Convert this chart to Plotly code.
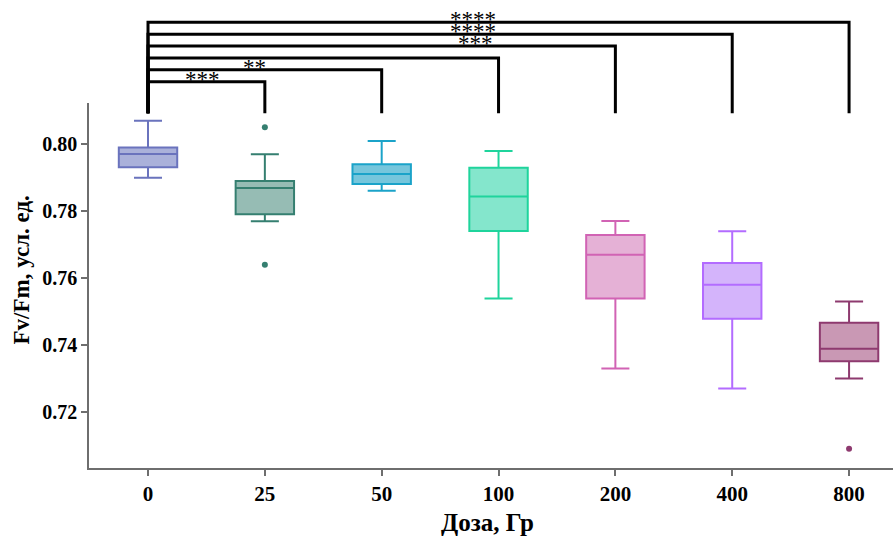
import plotly.graph_objects as go

# Dose groups (Gy) and Fv/Fm box statistics
doses = ["0", "25", "50", "100", "200", "400", "800"]
q1 = [0.7931, 0.7791, 0.7881, 0.7741, 0.7539, 0.7479, 0.7352]
medians = [0.7971, 0.7869, 0.7911, 0.7844, 0.7670, 0.7580, 0.7389]
q3 = [0.7990, 0.7890, 0.7940, 0.7930, 0.7729, 0.7645, 0.7467]
lower_fence = [0.7900, 0.7770, 0.7861, 0.7539, 0.7330, 0.7270, 0.7300]
upper_fence = [0.8070, 0.7970, 0.8010, 0.7980, 0.7771, 0.7740, 0.7530]

# Outlying measurements per dose
outlier_dose = ["25", "25", "800"]
outlier_value = [0.8051, 0.7640, 0.7090]

# Pairwise comparisons against the control and their significance marks
cmp_from = ["0", "0", "0", "0", "0", "0"]
cmp_to = ["25", "50", "100", "200", "400", "800"]
cmp_mark = ["***", "**", "", "***", "****", "****"]

y_ticks = [0.72, 0.74, 0.76, 0.78, 0.80]

line_colors = ["#6a73bd", "#357f70", "#1ba3c9", "#1fd49c", "#d163b4", "#b36cff", "#8e3a6f"]
fill_colors = ["#aab1da", "#96bcb4", "#76c6dc", "#84e6cc", "#e5b1d6", "#d4b4fb", "#c998b4"]

SERIF = "Liberation Serif, Times New Roman, serif"

fig = go.Figure()

for i, d in enumerate(doses):
    fig.add_trace(go.Box(
        x=[d], q1=[q1[i]], median=[medians[i]], q3=[q3[i]],
        lowerfence=[lower_fence[i]], upperfence=[upper_fence[i]],
        line=dict(color=line_colors[i], width=2),
        fillcolor=fill_colors[i],
        width=0.5, whiskerwidth=0.48,
        boxpoints=False, showlegend=False, hoverinfo="skip",
    ))

# outlier dots coloured like their box
for d, v in zip(outlier_dose, outlier_value):
    c = line_colors[doses.index(d)]
    fig.add_trace(go.Scatter(
        x=[d], y=[v], mode="markers",
        marker=dict(color=c, size=6),
        showlegend=False, hoverinfo="skip",
    ))

# significance brackets on a hidden axis stacked above the plot
foot = -1.66
for k, (a, b, m) in enumerate(zip(cmp_from, cmp_to, cmp_mark)):
    level = k + 1
    fig.add_trace(go.Scatter(
        x=[a, a, b, b], y=[foot, level, level, foot],
        mode="lines", line=dict(color="black", width=3),
        xaxis="x", yaxis="y2", showlegend=False, hoverinfo="skip",
    ))

# star labels (horizontal placement in category units)
mark_x = [0.467, 0.913, None, 2.80, 2.78, 2.78]
for k, m in enumerate(cmp_mark):
    if not m:
        continue
    fig.add_annotation(
        x=mark_x[k], y=k + 1, xref="x", yref="y2",
        text=m, showarrow=False, xanchor="center", yanchor="bottom",
        yshift=-12,
        font=dict(family=SERIF, size=23, color="black"),
    )

fig.add_annotation(
    text="<b>Fv/Fm, усл. ед.</b>", textangle=-90,
    xref="paper", yref="paper", x=-0.0840, y=0.423,
    xanchor="center", yanchor="middle", showarrow=False,
    font=dict(family=SERIF, size=23, color="black"),
)
fig.add_annotation(
    text="<b>Доза, Гр</b>",
    xref="paper", yref="paper", x=0.496, y=-0.1175,
    xanchor="center", yanchor="middle", showarrow=False,
    font=dict(family=SERIF, size=25, color="black"),
)

fig.update_layout(
    width=895, height=540,
    margin=dict(l=89, r=2, t=0, b=72),
    paper_bgcolor="white", plot_bgcolor="rgba(0,0,0,0)",
    xaxis=dict(
        type="category", categoryorder="array", categoryarray=doses,
        range=[-0.505, 6.376],
        showline=True, linecolor="#6e6e6e", linewidth=1.5,
        ticks="outside", ticklen=6, tickwidth=1.5, tickcolor="#6e6e6e",
        showgrid=False, zeroline=False, anchor="y",
        tickfont=dict(family=SERIF, size=21, color="black", weight="bold"),
    ),
    yaxis=dict(
        domain=[0, 0.7793], range=[0.70328, 0.81224],
        tickvals=y_ticks, ticktext=[f"{v:.2f}" for v in y_ticks],
        showline=True, linecolor="#6e6e6e", linewidth=1.5,
        ticks="outside", ticklen=6, tickwidth=1.5, tickcolor="#6e6e6e",
        showgrid=False, zeroline=False, anchor="x",
        tickfont=dict(family=SERIF, size=20, color="black", weight="bold"),
    ),
    yaxis2=dict(
        domain=[0.7222, 1], range=[-3.066, 7.877],
        visible=False, anchor="x", fixedrange=True,
    ),
)

fig.write_html("out.html")
